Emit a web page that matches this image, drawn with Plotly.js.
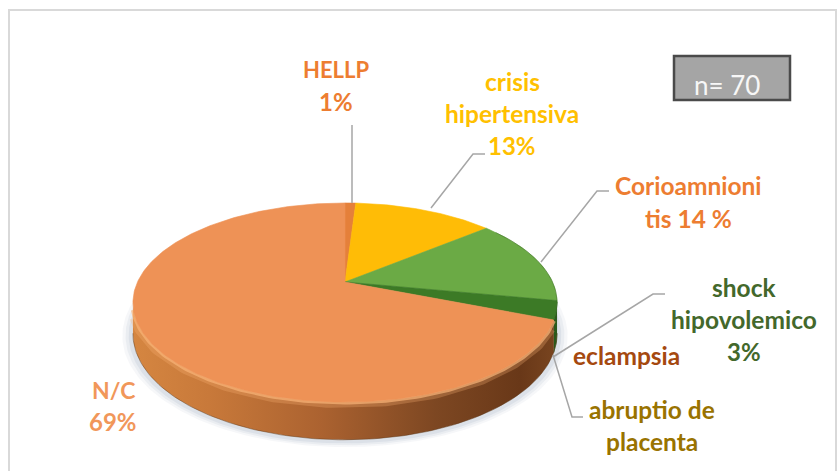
<!DOCTYPE html>
<html>
<head>
<meta charset="utf-8">
<script src="https://cdn.plot.ly/plotly-3.0.1.min.js"></script>
<style>html,body{margin:0;padding:0;background:#fff}#chart{width:838px;height:471px}</style>
</head>
<body>
<div id="chart"></div>
<script>
// ---- data (clockwise from 12 o'clock) ----
var categories = ['HELLP', 'crisis hipertensiva', 'Corioamnionitis', 'shock hipovolemico', 'eclampsia', 'abruptio de placenta', 'N/C'];
var values = [1, 13, 14, 3, 0, 0, 69];
var sliceColors = ['#E5803A', '#FFBC06', '#6BAA45', '#3C7A26', '#9E480E', '#997300', '#EE9256'];

// ---- pie geometry, in picture pixels ----
var apex = [345, 282], scaleX = 207.5, scaleY = 95.3, tilt = 0.206, depth = 30;
var edgeFrom = 101.6, edgeTo = 258.4;
function project(phiDeg, grow, drop) {
  var p = phiDeg * Math.PI / 180, u = Math.sin(p), v = -Math.cos(p), w = 1 - tilt * v;
  return [apex[0] + (grow || 1) * scaleX * u / w, apex[1] + (grow || 1) * scaleY * v / w + (drop || 0) / w];
}
function arc(a, b, grow, drop) {
  var n = Math.max(2, Math.ceil(Math.abs(b - a))), pts = [];
  for (var i = 0; i <= n; i++) pts.push(project(a + (b - a) * i / n, grow, drop));
  return pts;
}
function xs(p) { return p.map(function (q) { return q[0]; }); }
function ys(p) { return p.map(function (q) { return q[1]; }); }
function poly(pts, color, name, extra) {
  var t = {type: 'scatter', mode: 'lines', x: xs(pts), y: ys(pts), fill: 'toself', fillcolor: color,
           line: {width: 0.6, color: color}, hoverinfo: 'name', name: name, showlegend: false};
  for (var k in extra) t[k] = extra[k];
  return t;
}

var traces = [];
// soft ground shadow
[[1.05, 0.07], [1.035, 0.09], [1.02, 0.12]].forEach(function (s) {
  var all = arc(0, 360, s[0], depth + 1);
  traces.push(poly(all, 'rgba(125,140,170,' + s[1] + ')', 'shadow', {line: {width: 0}, hoverinfo: 'skip'}));
});

// slice angle limits
var total = values.reduce(function (a, b) { return a + b; }, 0), limits = [], acc = 0;
values.forEach(function (v) { limits.push([acc / total * 360, (acc + v) / total * 360]); acc += v; });

// side wall, coloured slices then the large one with a shaded gradient
limits.forEach(function (lim, i) {
  var a = Math.max(lim[0], edgeFrom), b = Math.min(lim[1], edgeTo);
  if (values[i] === 0 || b <= a) return;
  var top = arc(a, b), low = arc(b, a, 1, depth);
  var extra = {};
  if (categories[i] === 'N/C') {
    extra.fillgradient = {type: 'horizontal', colorscale: [
      [0, '#D58641'], [0.18, '#C8793A'], [0.45, '#AB6230'], [0.72, '#7D4722'], [0.92, '#693818'], [1, '#78441F']]};
    extra.line = {width: 0};
  }
  traces.push(poly(top.concat(low), extra.fillgradient ? 'rgba(0,0,0,0)' : '#2B5A1C', categories[i] + ' side', extra));
});
// lower edge and bevel on the wall
var wallLow = arc(edgeFrom, edgeTo, 1, depth), wallWide = arc(116, 250), wallThin = arc(112, 254);
traces.push({type: 'scatter', mode: 'lines', x: xs(wallLow), y: ys(wallLow),
  line: {color: 'rgba(90,55,25,0.45)', width: 1}, hoverinfo: 'skip', showlegend: false});
traces.push({type: 'scatter', mode: 'lines', x: xs(wallWide), y: ys(wallWide), line: {color: 'rgba(250,180,120,0.28)', width: 12}, hoverinfo: 'skip', showlegend: false});
traces.push({type: 'scatter', mode: 'lines', x: xs(wallThin), y: ys(wallThin), line: {color: 'rgba(250,180,120,0.7)', width: 5}, hoverinfo: 'skip', showlegend: false});

// top face wedges
limits.forEach(function (lim, i) {
  if (values[i] === 0) return;
  var pts = [apex].concat(arc(lim[0], lim[1])).concat([apex]);
  traces.push(poly(pts, sliceColors[i], categories[i] + ' ' + values[i] + '%'));
});
// darker edge of the green slices
var greenEdge = arc(limits[1][1] + 4, limits[3][1]);
traces.push({type: 'scatter', mode: 'lines', x: xs(greenEdge), y: ys(greenEdge), line: {color: 'rgba(50,100,30,0.45)', width: 1}, hoverinfo: 'skip', showlegend: false});

// ---- labels ----
var F = 'Lato, "Open Sans", sans-serif';
var labelRows = [
  ['HELLP', 336, 69, '#ED7D31', 22], ['1%', 336, 101, '#ED7D31', 24],
  ['crisis', 512, 81, '#FFC000', 24.5], ['hipertensiva', 512, 113, '#FFC000', 24.5], ['13%', 512, 145, '#FFC000', 24],
  ['Corioamnioni', 688, 185, '#ED7D31', 24.5], ['tis 14 %', 688, 218, '#ED7D31', 24.5],
  ['shock', 744, 287, '#43682B', 24.5], ['hipovolemico', 744, 319, '#43682B', 24.5], ['3%', 744, 351, '#43682B', 24],
  ['eclampsia', 626, 355, '#A5490F', 24.5],
  ['abruptio de', 652, 409, '#997300', 24.5], ['placenta', 652, 441, '#997300', 24.5],
  ['N/C', 113, 390, '#F1975A', 23], ['69%', 113, 421, '#F1975A', 24]
];
var annotations = labelRows.map(function (r) {
  return {text: '<b>' + r[0] + '</b>', x: r[1], y: r[2], xref: 'x', yref: 'y', showarrow: false,
          xanchor: 'center', yanchor: 'middle', font: {family: F, size: r[4], color: r[3]}};
});
annotations.push({text: 'n= 70', x: 727, y: 85, xref: 'x', yref: 'y', showarrow: false, xanchor: 'center', yanchor: 'middle',
  font: {family: F, size: 26, color: '#F7F7F7'}});

var leaderPaths = [
  'M352,125 L352,203',
  'M431,208 L473,154 L485,154',
  'M541,262 L597,191 L609,191',
  'M553,357 L653,294 L665,294',
  'M553,355 L572,417 L583,417'
];
var shapes = leaderPaths.map(function (p) {
  return {type: 'path', path: p, xref: 'x', yref: 'y', line: {color: '#A6A6A6', width: 1.5}, layer: 'above'};
});
shapes.push({type: 'rect', x0: 9, y0: 10, x1: 836, y1: 490, xref: 'x', yref: 'y', line: {color: '#D9D9D9', width: 2}, layer: 'below'});
shapes.push({type: 'rect', x0: 674, y0: 56, x1: 790, y1: 100, xref: 'x', yref: 'y', fillcolor: '#A5A5A5', line: {color: '#4A4A4A', width: 2.5}, layer: 'above'});

Plotly.newPlot('chart', traces, {
  width: 838, height: 471, margin: {l: 0, r: 0, t: 0, b: 0}, showlegend: false,
  paper_bgcolor: '#fff', plot_bgcolor: '#fff',
  xaxis: {range: [0, 838], visible: false, fixedrange: true},
  yaxis: {range: [471, 0], visible: false, fixedrange: true},
  annotations: annotations, shapes: shapes, hovermode: 'closest'
}, {displayModeBar: false});
</script>
</body>
</html>
